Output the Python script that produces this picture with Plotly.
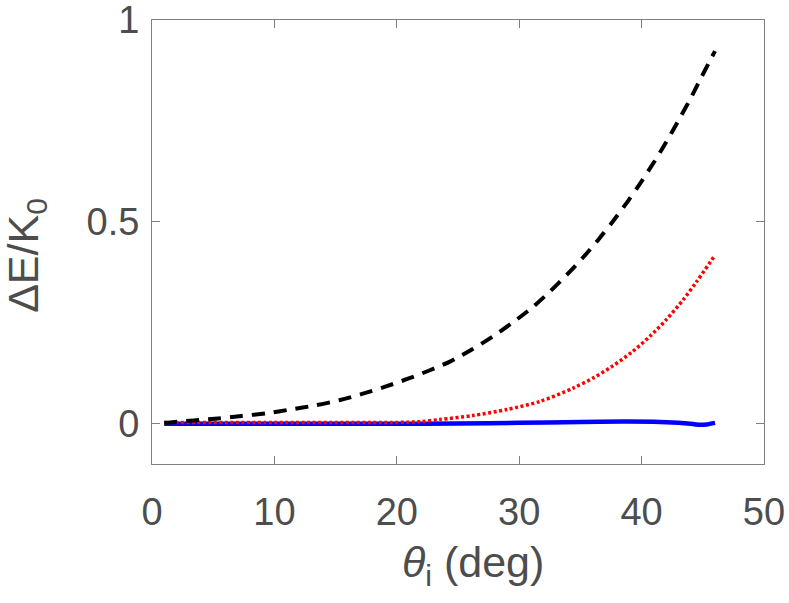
import plotly.graph_objects as go

theta_dash = [1.0, 1.5, 3.4, 5.4, 7.3, 9.4, 11.3, 13.3, 15.3, 17.1, 19.0, 20.8, 22.6, 24.3, 26.1, 27.8,
              29.4, 31.0, 32.5, 33.9, 35.2, 36.5, 37.6, 38.9, 39.9, 41.1, 42.0, 42.9, 43.9, 44.8, 45.7, 46.0]
dE_dash = [0.002, 0.003, 0.008, 0.013, 0.019, 0.026, 0.035, 0.045, 0.058, 0.073, 0.091, 0.110, 0.131, 0.153, 0.183, 0.215,
           0.249, 0.286, 0.327, 0.369, 0.411, 0.457, 0.499, 0.552, 0.596, 0.652, 0.697, 0.745, 0.800, 0.853, 0.906, 0.923]

theta_dot = [1.0, 10.0, 20.0, 22.0, 23.5, 26.2, 29.0, 31.7, 34.4, 36.1, 37.6, 39.2, 40.7, 42.0, 43.4,
             44.5, 45.9, 46.0]
dE_dot = [0.003, 0.003, 0.003, 0.005, 0.010, 0.020, 0.035, 0.055, 0.088, 0.114, 0.142, 0.177, 0.217, 0.257, 0.307,
          0.352, 0.413, 0.417]

theta_solid = [1.0, 10.0, 20.0, 25.0, 30.0, 35.0, 38.5, 41.0, 43.0, 44.2, 44.8, 45.3, 46.0]
dE_solid = [0.000, 0.000, -0.0005, 0.0005, 0.002, 0.004, 0.005, 0.0045, 0.002, -0.001, -0.003, -0.002, 0.002]

x_ticks = [0, 10, 20, 30, 40, 50]
y_ticks = [0, 0.5, 1]
y_tick_labels = ["0", "0.5", "1"]

fig = go.Figure()
fig.add_trace(go.Scatter(x=theta_solid, y=dE_solid, mode="lines",
                         line=dict(color="#0000ff", width=4.5, shape="spline", smoothing=0.8)))
fig.add_trace(go.Scatter(x=theta_dot, y=dE_dot, mode="lines",
                         line=dict(color="#ff0000", width=3.5, dash="3px,2.5px", shape="spline", smoothing=0.8)))
fig.add_trace(go.Scatter(x=theta_dash, y=dE_dash, mode="lines",
                         line=dict(color="#000000", width=4, dash="13px,9px", shape="spline", smoothing=0.8)))

gray = "#4d4d4d"
font_name = "Liberation Sans"
axis_common = dict(showline=True, linecolor="#808080", linewidth=1, mirror="ticks", ticks="inside",
                   ticklen=8, tickcolor="#808080", showgrid=False, zeroline=False, automargin=False,
                   ticklabeloverflow="allow",
                   tickfont=dict(family=font_name, size=38, color=gray))

fig.update_layout(
    width=789, height=603, showlegend=False,
    paper_bgcolor="white", plot_bgcolor="white",
    margin=dict(l=152, r=25, t=20, b=139),
    xaxis=dict(range=[0, 50], tickvals=x_ticks, ticktext=[str(v) for v in x_ticks],
               ticklabelstandoff=14, **axis_common),
    yaxis=dict(range=[-0.1, 1], tickvals=y_ticks, ticktext=y_tick_labels,
               ticklabelstandoff=4, **axis_common),
    annotations=[
        dict(text="<i>θ</i><sub>i</sub> (deg)", xref="paper", yref="paper", x=0.525, y=-0.228,
             xanchor="center", yanchor="middle", showarrow=False,
             font=dict(family=font_name, size=43, color=gray)),
        dict(text="ΔE/K<sub>0</sub>", xref="paper", yref="paper", x=-0.205, y=0.47,
             xanchor="center", yanchor="middle", showarrow=False, textangle=-90,
             font=dict(family=font_name, size=43, color=gray)),
    ],
)
fig.write_html("out.html", config={"displayModeBar": False},
               post_script="document.body.style.margin='0px';")
